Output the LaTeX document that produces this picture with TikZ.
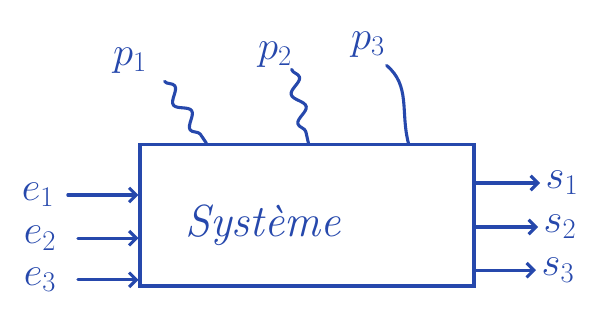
\RequirePackage{fix-cm}
\documentclass[tikz,border=0pt]{standalone}
\usepackage{amsmath}
\usepackage{tikz}
\usetikzlibrary{arrows.meta, positioning, decorations.pathmorphing}
\definecolor{inkblue}{RGB}{38,72,172}

\begin{document}
\begin{tikzpicture}[
    ink/.style={draw=inkblue, line width=2.2pt, line cap=round, line join=round},
    sysbox/.style={rectangle, draw=inkblue, line width=2.2pt,
                minimum width=8.35cm, minimum height=3.53cm},
    lbl/.style={text=inkblue, font=\fontsize{29}{34}\selectfont, inner sep=1pt},
    arrow/.style={-{Straight Barb[length=1.8mm, width=3.6mm]}, ink},
    wave/.style={ink, decorate, decoration={snake, segment length=7.5mm, amplitude=1.5mm}}
]
\useasboundingbox (0,0) rectangle (14.9,8.175);

\node[sysbox] (box) at (7.675,2.79) {};
\node[text=inkblue, font=\fontsize{32}{38}\selectfont\itshape, anchor=base] (sys) at (6.575,2.25) {Système};

% entrees
\node[lbl] (e1) at (0.95,3.3) {$e_1$};
\node[lbl] (e2) at (1.0,2.22) {$e_2$};
\node[lbl] (e3) at (1.0,1.18) {$e_3$};
\draw[arrow, shorten <=3mm] (e1.east) -- (e1.east -| box.west);
\draw[arrow, shorten <=5mm] (e2.east) -- (e2.east -| box.west);
\draw[arrow, shorten <=5mm] (e3.east) -- (e3.east -| box.west);

% sorties
\node[lbl] (s1) at (14.05,3.6) {$s_1$};
\node[lbl] (s2) at (14.0,2.5) {$s_2$};
\node[lbl] (s3) at (13.95,1.42) {$s_3$};
\draw[arrow, shorten >=1mm] (s1.west -| box.east) -- (s1.west);
\draw[arrow, shorten >=1mm] (s2.west -| box.east) -- (s2.west);
\draw[arrow, shorten >=1mm] (s3.west -| box.east) -- (s3.west);

% perturbations
\node[lbl] (p1) at (3.25,6.65) {$p_1$};
\node[lbl] (p2) at (6.875,6.8) {$p_2$};
\node[lbl] (p3) at (9.2,7.05) {$p_3$};
\coordinate (t1) at ([xshift=1.7cm]box.north west);
\coordinate (t2) at ([xshift=4.25cm]box.north west);
\coordinate (t3) at ([xshift=6.75cm]box.north west);
\coordinate[below right=0.15cm and 0.4cm of p1.south east] (w1);
\coordinate[below right=0.0cm and -0.05cm of p2.south east] (w2);
\coordinate[below right=0.15cm and 0.0cm of p3.south east] (w3);
\draw[wave] (w1) -- (t1);
\draw[wave] (w2) -- (t2);
\draw[ink] (w3) to[out=-40, in=105] (t3);
\end{tikzpicture}
\end{document}
